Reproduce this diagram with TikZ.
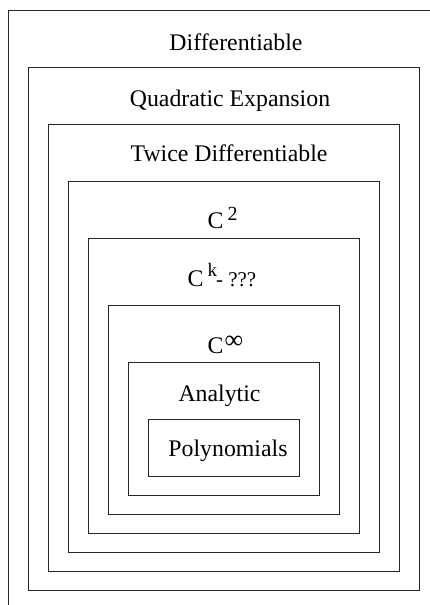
\documentclass[tikz,border=0pt]{standalone}
\usepackage{fontspec}
\setmainfont{Liberation Serif}
\begin{document}
\begin{tikzpicture}[x=1pt,y=-1pt,
  box/.style={draw=black!85,line width=1pt},
  lbl/.style={inner sep=0pt,anchor=base,font=\fontsize{23.8}{24}\selectfont},
  lblw/.style={inner sep=0pt,anchor=base west,font=\fontsize{23.8}{24}\selectfont}]
\useasboundingbox (0,0) rectangle (430,605);
% outer (clipped) box
\draw[box] (430,10) -- (8.5,10) -- (8.5,605);
\draw[box] (28.5,67.7) rectangle (419,590);
\draw[box] (48.7,124.3) rectangle (399,571);
\draw[box] (68.3,181) rectangle (379,552.3);
\draw[box] (88.3,238.7) rectangle (359,533.3);
\draw[box] (108.3,305.3) rectangle (339.2,514.3);
\draw[box] (128.3,362.3) rectangle (319,495);
\draw[box] (148.3,419.3) rectangle (299,476);
% labels
\node[lbl] (l1) at (236,50) {Differentiable};
\node[lbl] (l2) at (230,106.7) {Quadratic Expansion};
\node[lbl] (l3) at (229,161.7) {Twice Differentiable};
\node[lblw] (l4) at (207.5,228) {C\hspace{4pt}\raisebox{8pt}{\fontsize{20}{20}\selectfont 2}};
\node[lblw] (l5) at (187.5,286) {C\hspace{4pt}\raisebox{10pt}{\fontsize{19}{19}\selectfont k}\hspace{-1pt}{\fontsize{21}{21}\selectfont- ???}};
\node[lblw] (l6) at (207.5,353) {C\hspace{1pt}\raisebox{5pt}{\fontsize{26}{26}\selectfont ∞}};
\node[lbl] (l7) at (219.5,401) {Analytic};
\node[lbl] (l8) at (228,456.7) {Polynomials};
\end{tikzpicture}
\end{document}
